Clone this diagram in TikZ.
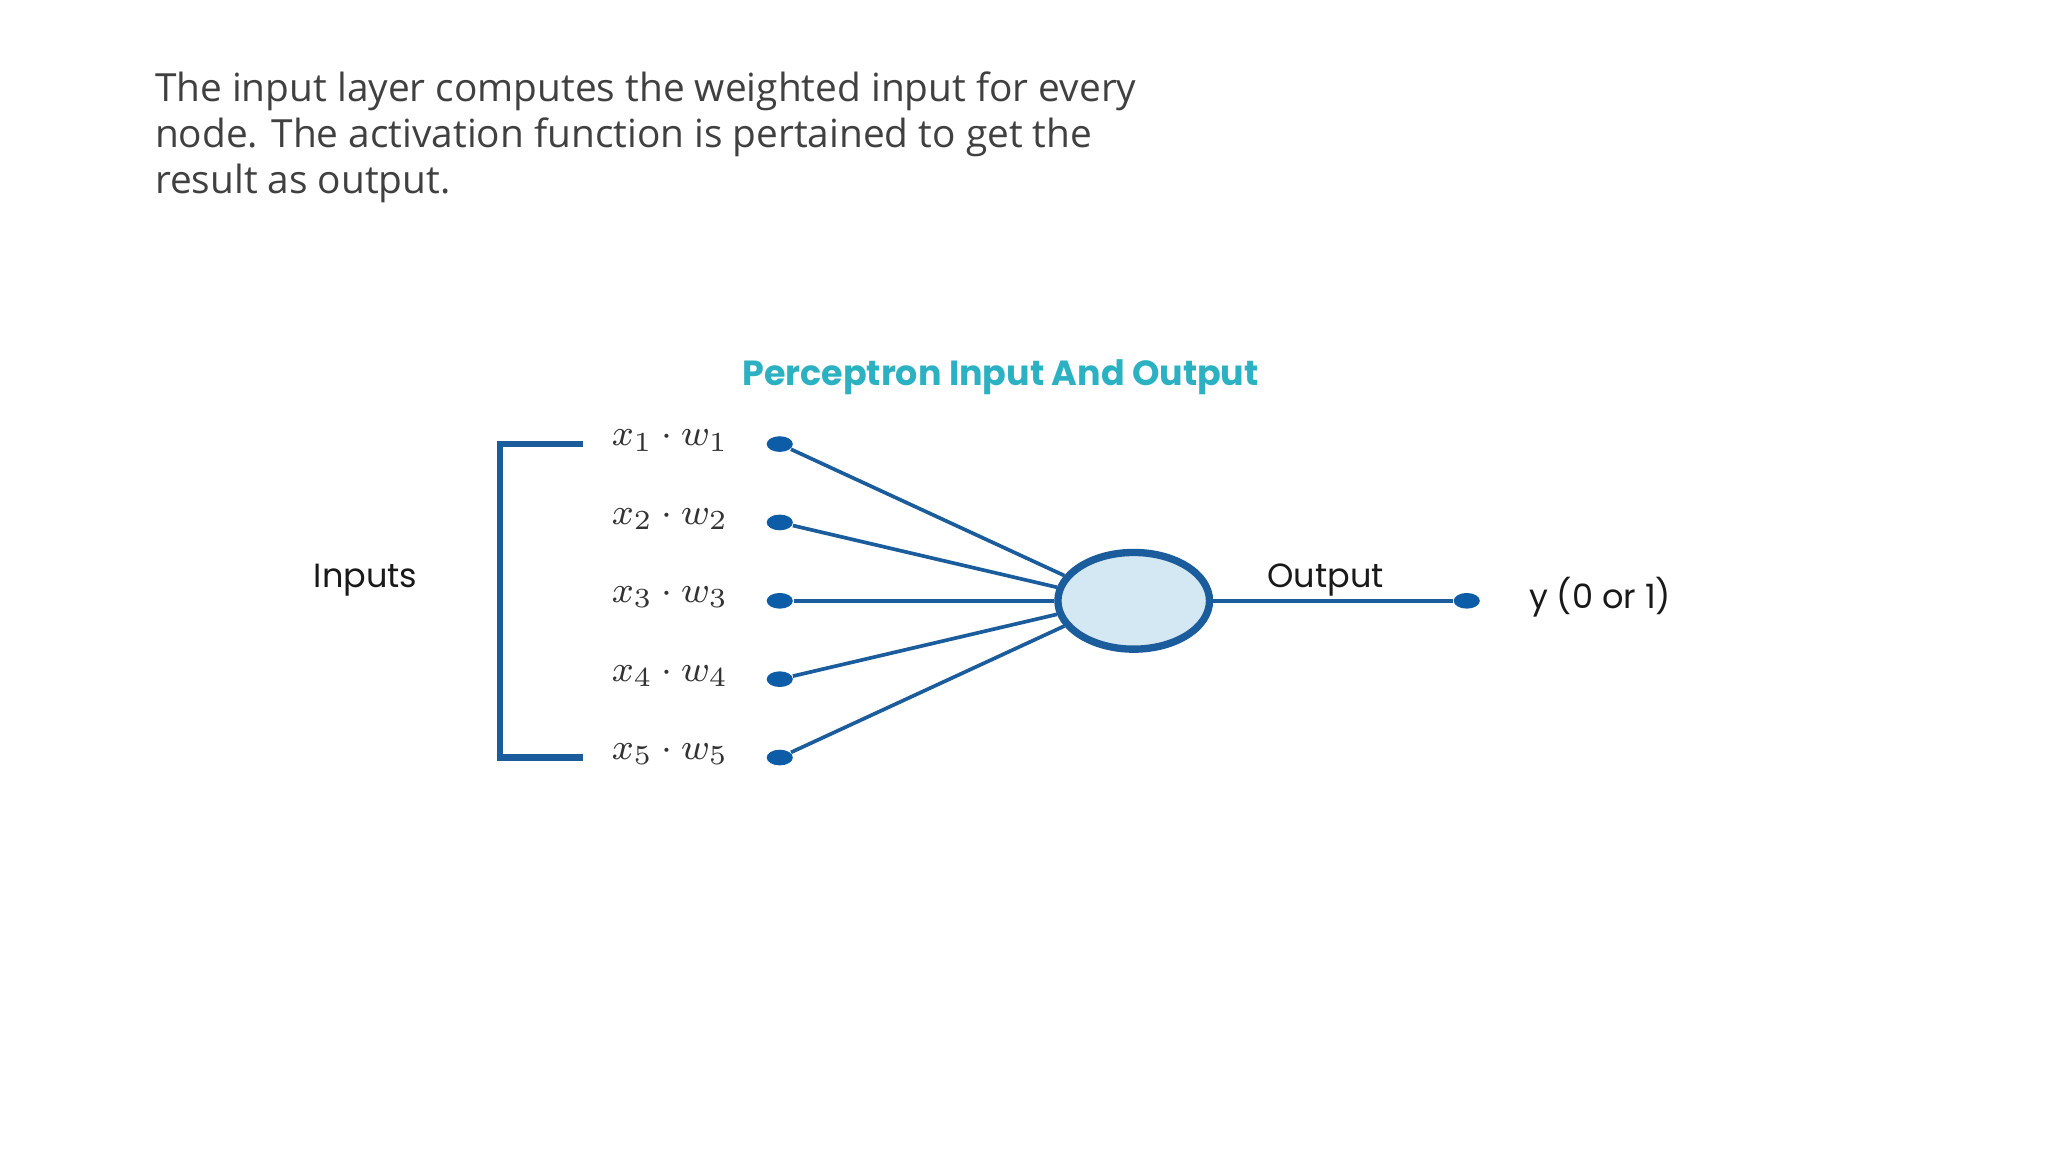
\documentclass[tikz,border=0pt]{standalone}
\usepackage{fontspec}
\setmainfont{Open Sans}
\newfontfamily\lblfont{Poppins}
\usetikzlibrary{calc,shapes.geometric}
\definecolor{nblue}{HTML}{1B5C9C}
\definecolor{dotblue}{HTML}{0D5CA8}
\definecolor{teal}{HTML}{2CB1C3}
\definecolor{txtgray}{HTML}{404040}
\definecolor{cfill}{HTML}{D3E8F2}
\begin{document}
\begin{tikzpicture}[x=0.01cm,y=-0.01cm,
  dotn/.style={ellipse,fill=dotblue,minimum width=0.2cm,minimum height=0.12cm,inner sep=0},
  wline/.style={nblue,line width=0.8pt},
  lbl/.style={font=\lblfont\fontsize{7.3}{9}\selectfont,text=black!90,inner sep=0}]
\useasboundingbox (0,0) rectangle (1568,882);
\node[anchor=north west,align=left,text=txtgray,font=\fontsize{8.45}{10.1}\selectfont,inner sep=0] (para) at (118,54)
{The input layer computes the weighted input for every\\node. The activation function is pertained to get the\\result as output.};
\node[font=\lblfont\fontsize{7.6}{9}\selectfont\bfseries,text=teal] (title) at (766,289) {Perceptron Input And Output};
\draw[wline,line width=1.4pt] (446,340) -- (383,340) -- (383,580) -- (446,580);
\node[lbl] (inputs) at (280,444) {Inputs};
\node[ellipse,draw=nblue,line width=1.6pt,fill=cfill,minimum width=1.16cm,minimum height=0.74cm] (c) at (868,460) {};
\foreach \i/\y in {1/340,2/400,3/460,4/520,5/580}{
  \node[dotn] (d\i) at (597,\y) {};
  \node[inner sep=0,font=\fontsize{8}{9}\selectfont,text=black!80] (t\i) at (513,\y-3) {$x_{\i}\cdot w_{\i}$};
}
\draw[wline] (d1) -- (c.160);
\draw[wline] (d2) -- (c.170);
\draw[wline] (d3) -- (c.west);
\draw[wline] (d4) -- (c.190);
\draw[wline] (d5) -- (c.200);
\node[dotn] (o) at (1123,460) {};
\draw[wline] (c.east) -- (o);
\node[lbl] (outl) at (1015,444) {Output};
\node[lbl] (y) at (1225,457) {y (0 or 1)};
\end{tikzpicture}
\end{document}
